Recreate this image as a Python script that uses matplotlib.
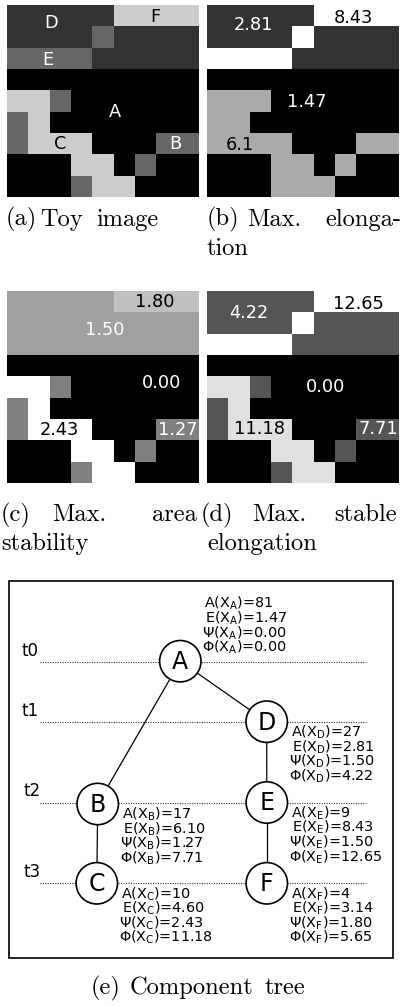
import matplotlib
matplotlib.use('Agg')
import matplotlib.pyplot as plt
import numpy as np
from matplotlib.patches import Circle, Rectangle

W, H, DPI = 401, 1006, 100

# ---------------- data ----------------
# 9x9 toy image: region label of every pixel
region_rows = ["DDDDDFFFF",
               "DDDDEDDDD",
               "EEEEDDDDD",
               "AAAAAAAAA",
               "CCBAAAAAA",
               "BCAAAAAAA",
               "BCCCAAABB",
               "AAACCABAA",
               "AAABCCAAA"]
region_names = ['A', 'B', 'C', 'D', 'E', 'F']

# gray level (0-255) of each region in each panel
gray_toy = [0, 102, 204, 51, 102, 204]
gray_elong = [0, 170, 170, 51, 255, 255]
gray_area = [0, 128, 255, 160, 160, 192]
gray_stable = [0, 85, 224, 85, 255, 255]

# text written on each panel (text, colour, x-frac, y-frac from top)
labels_toy = [("D", "white", 0.228, 0.092), ("F", "black", 0.771, 0.061),
              ("E", "white", 0.215, 0.286), ("A", "white", 0.5625, 0.556),
              ("C", "black", 0.276, 0.724), ("B", "white", 0.875, 0.724)]
labels_elong = [("2.81", "white", 0.241, 0.104), ("8.43", "black", 0.762, 0.069),
                ("1.47", "white", 0.519, 0.503), ("6.1", "black", 0.172, 0.729)]
labels_area = [("1.80", "black", 0.771, 0.056), ("1.50", "white", 0.51, 0.203),
               ("0.00", "white", 0.806, 0.481), ("2.43", "black", 0.272, 0.724),
               ("1.27", "white", 0.892, 0.724)]
labels_stable = [("4.22", "white", 0.22, 0.116), ("12.65", "black", 0.79, 0.068),
                 ("0.00", "white", 0.615, 0.498), ("11.18", "black", 0.276, 0.72),
                 ("7.71", "white", 0.892, 0.72)]

# component tree
tree_nodes = ['A', 'B', 'C', 'D', 'E', 'F']
tree_parent = [None, 'A', 'B', 'A', 'D', 'E']
tree_area = [81, 17, 10, 27, 9, 4]
tree_elong = [1.47, 6.10, 4.60, 2.81, 8.43, 3.14]
tree_psi = [0.00, 1.27, 2.43, 1.50, 1.50, 1.80]
tree_phi = [0.00, 7.71, 11.18, 4.22, 12.65, 5.65]
levels = ['t0', 't1', 't2', 't3']

# ---------------- layout ----------------
node_xy = {'A': (180.3, 661.2), 'B': (97.7, 804.0), 'C': (96.8, 883.3),
           'D': (266.7, 721.7), 'E': (266.8, 802.5), 'F': (266.8, 883.3)}
level_y = [661.5, 722.0, 802.5, 883.3]
level_label_x = [22, 22, 23, 24]
R = 20.7

fig = plt.figure(figsize=(W / DPI, H / DPI), dpi=DPI)

ov = fig.add_axes([0, 0, 1, 1])
ov.set_xlim(0, W)
ov.set_ylim(H, 0)
ov.axis('off')


def px_axes(x0, y0, w, h):
    return fig.add_axes([x0 / W, 1 - (y0 + h) / H, w / W, h / H])


lut = {n: i for i, n in enumerate(region_names)}
idx = np.array([[lut[c] for c in row] for row in region_rows])

panels = [((7, 5), gray_toy, labels_toy),
          ((207, 5), gray_elong, labels_elong),
          ((7, 291), gray_area, labels_area),
          ((207, 291), gray_stable, labels_stable)]
for (x0, y0), grays, labs in panels:
    ax = px_axes(x0, y0, 192, 192)
    img = np.array(grays)[idx]
    ax.imshow(img, cmap='gray', vmin=0, vmax=255, interpolation='nearest', aspect='auto')
    ax.set_xticks([])
    ax.set_yticks([])
    for s in ax.spines.values():
        s.set_visible(False)
    for t, c, fx, fy in labs:
        ax.text(fx, 1 - fy, t, color=c, fontsize=12.8, ha='center', va='center',
                transform=ax.transAxes, family='DejaVu Sans')

# captions (serif, Computer Modern)
cap = dict(fontsize=17.6, family='cmr10', ha='left', va='baseline', color='black')
caption_words = [("(a)", 6, 225.8), ("Toy", 40, 225.8), ("image", 96, 225.8),
                 ("(b)", 207, 225.8), ("Max.", 247, 225.8), ("elonga-", 325, 225.8),
                 ("tion", 207, 255.2),
                 ("(c)", 1, 521), ("Max.", 52, 521), ("area", 152, 521),
                 ("stability", 1, 550.4),
                 ("(d)", 201, 521), ("Max.", 252, 521), ("stable", 334, 521),
                 ("elongation", 207, 550.4),
                 ("(e)", 91, 994), ("Component", 130, 994), ("tree", 265, 994)]
for t, x, y in caption_words:
    ov.text(x, y, t, **cap)

# tree box
ov.add_patch(Rectangle((9, 581), 384, 377, fill=False, lw=1.2, ec='black', zorder=1))

# level lines
for lab, y, lx in zip(levels, level_y, level_label_x):
    ov.plot([40, 366], [y, y], ls=(0, (1, 1.2)), color='#333333', lw=0.8, zorder=2)
    ov.text(lx, y - 11, lab, fontsize=12, ha='left', va='center', family='DejaVu Sans')

# edges
for n, p in zip(tree_nodes, tree_parent):
    if p is None:
        continue
    (x1, y1), (x2, y2) = node_xy[n], node_xy[p]
    ov.plot([x1, x2], [y1, y2], color='black', lw=0.9, zorder=3)

# nodes and attribute blocks
for i, n in enumerate(tree_nodes):
    x, y = node_xy[n]
    ov.add_patch(Circle((x, y), R, fc='white', ec='black', lw=1.2, zorder=4))
    ov.text(x, y + 1, n, fontsize=17, ha='center', va='center', zorder=5,
            family='DejaVu Sans')
    lines = [r"A(X$_{\mathrm{%s}}$)=%d" % (n, tree_area[i]),
             r"E(X$_{\mathrm{%s}}$)=%.2f" % (n, tree_elong[i]),
             r"Ψ(X$_{\mathrm{%s}}$)=%.2f" % (n, tree_psi[i]),
             r"Φ(X$_{\mathrm{%s}}$)=%.2f" % (n, tree_phi[i])]
    dxs = [24, 25, 22, 22]
    if n == 'A':
        dys = [-53.3, -38.7, -24.0, -9.3]
    else:
        dys = [14.9, 29.5, 44.1, 58.7]
    for t, dx, dy in zip(lines, dxs, dys):
        ov.text(x + dx, y + dy, t, fontsize=10.4, ha='left', va='baseline', zorder=5,
                family='DejaVu Sans')

fig.savefig('out.png', dpi=DPI)
